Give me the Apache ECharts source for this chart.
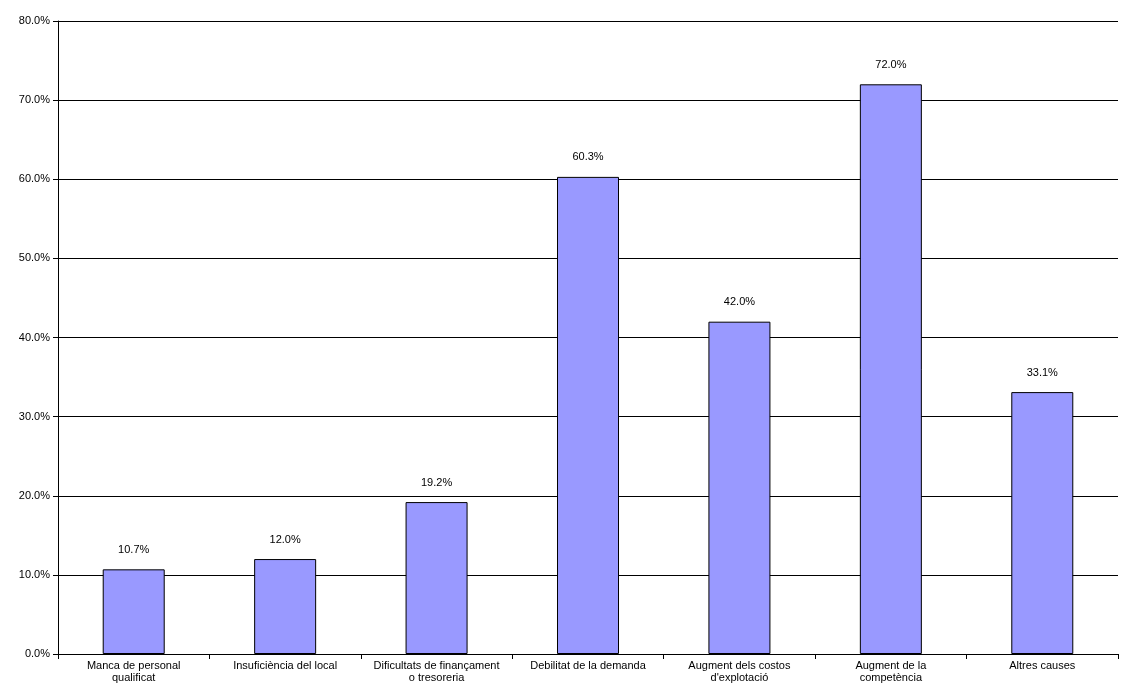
<!DOCTYPE html>
<html>
<head>
<meta charset="utf-8">
<script src="https://cdn.jsdelivr.net/npm/echarts@6/dist/echarts.min.js"></script>
<style>
  html, body { margin: 0; padding: 0; background: #fff; }
  #chart { width: 1133px; height: 696px; }
</style>
</head>
<body>
<div id="chart"></div>
<script>
// Causes (category labels, line breaks as in the picture)
const categories = [
  'Manca de personal\nqualificat',
  'Insuficiència del local',
  'Dificultats de finançament\no tresoreria',
  'Debilitat de la demanda',
  'Augment dels costos\nd\'explotació',
  'Augment de la\ncompetència',
  'Altres causes'
];
const values = [10.7, 12.0, 19.2, 60.3, 42.0, 72.0, 33.1];

const chart = echarts.init(document.getElementById('chart'));
chart.setOption({
  animation: false,
  textStyle: { fontFamily: 'Liberation Sans, Arial, sans-serif' },
  grid: { left: 58, right: 15, top: 21, bottom: 42 },
  xAxis: {
    type: 'category',
    data: categories,
    axisLine: { lineStyle: { color: '#000' } },
    axisTick: { show: true, lineStyle: { color: '#000' } },
    axisLabel: { color: '#000', fontSize: 11, interval: 0, lineHeight: 12, margin: 6 }
  },
  yAxis: {
    type: 'value',
    min: 0, max: 80, interval: 10,
    axisLine: { show: true, lineStyle: { color: '#000' } },
    axisTick: { show: true, lineStyle: { color: '#000' } },
    axisLabel: { color: '#000', fontSize: 11, formatter: v => v.toFixed(1) + '%' },
    splitLine: { lineStyle: { color: '#000', width: 1 } }
  },
  series: [{
    type: 'bar',
    data: values,
    barWidth: 62,
    itemStyle: { color: '#9999FF', borderColor: '#000', borderWidth: 1 },
    label: {
      show: true, position: 'top', distance: 14,
      color: '#000', fontSize: 11,
      formatter: p => p.value.toFixed(1) + '%'
    }
  }]
});
</script>
</body>
</html>
